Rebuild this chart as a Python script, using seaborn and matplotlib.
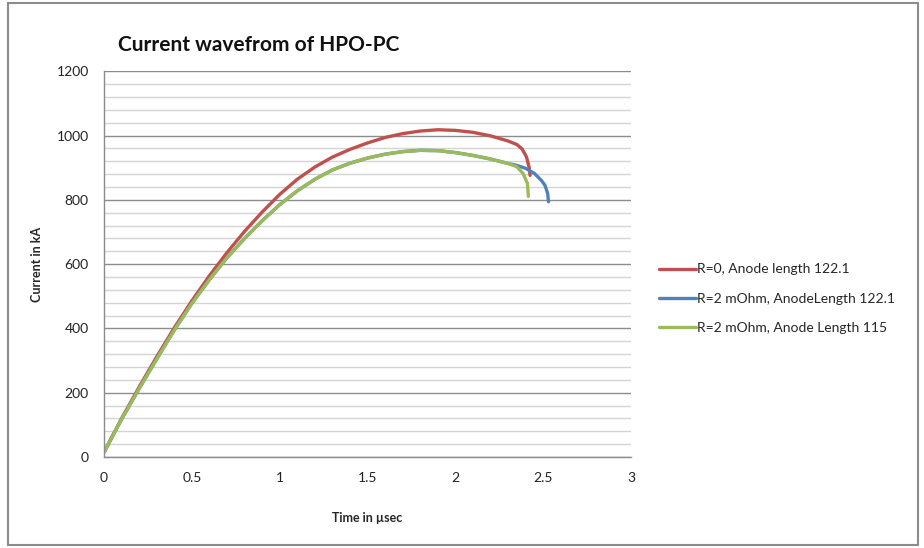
import numpy as np
import pandas as pd
import matplotlib
matplotlib.use("Agg")
import matplotlib.pyplot as plt
import seaborn as sns
from matplotlib.ticker import MultipleLocator, FormatStrFormatter

# ==================================================
# DATA
# ==================================================

red_x = [0, 0.1, 0.2, 0.3, 0.4, 0.5, 0.6, 0.7, 0.8, 0.9, 1.0, 1.1, 1.2, 1.3,
         1.4, 1.5, 1.6, 1.7, 1.8, 1.9, 2.0, 2.1, 2.2, 2.3, 2.35, 2.38, 2.405,
         2.42, 2.425]
red_y = [15, 120, 218, 312, 402, 486, 564, 636, 702, 762, 817, 864, 902, 933,
         957, 977, 994, 1006, 1014, 1018, 1016, 1010, 999, 983, 972, 958, 933,
         900, 876]

blue_x = [0, 0.1, 0.2, 0.3, 0.4, 0.5, 0.6, 0.7, 0.8, 0.9, 1.0, 1.1, 1.2, 1.3,
          1.4, 1.5, 1.6, 1.7, 1.8, 1.9, 2.0, 2.1, 2.2, 2.3, 2.35, 2.4, 2.45,
          2.49, 2.51, 2.525, 2.53]
blue_y = [15, 118, 213, 305, 395, 478, 552, 620, 680, 735, 785, 828, 864, 893,
          914, 930, 942, 950, 954, 953, 947, 938, 927, 913, 907, 898, 882,
          860, 845, 820, 794]

green_x = [0, 0.1, 0.2, 0.3, 0.4, 0.5, 0.6, 0.7, 0.8, 0.9, 1.0, 1.1, 1.2, 1.3,
           1.4, 1.5, 1.6, 1.7, 1.8, 1.9, 2.0, 2.1, 2.2, 2.3, 2.35, 2.385, 2.41,
           2.415]
green_y = [15, 118, 213, 305, 395, 478, 552, 620, 680, 735, 785, 828, 864, 893,
           914, 930, 942, 950, 954, 953, 947, 938, 927, 913, 903, 882, 851,
           811]

series_names = [
    "R=0, Anode length 122.1",
    "R=2 mOhm, AnodeLength 122.1",
    "R=2 mOhm, Anode Length 115",
]
series_colors = ["#C0504D", "#4F81BD", "#9BBB59"]

df = pd.concat([
    pd.DataFrame({"Time": red_x, "Current": red_y, "Series": series_names[0]}),
    pd.DataFrame({"Time": blue_x, "Current": blue_y, "Series": series_names[1]}),
    pd.DataFrame({"Time": green_x, "Current": green_y, "Series": series_names[2]}),
])

# ==================================================
# PLOT
# ==================================================

sns.set_style("white")
plt.rcParams["font.family"] = ["Lato", "DejaVu Sans"]

fig = plt.figure(figsize=(9.24, 5.48), dpi=100)
ax = fig.add_axes([0.1126, 0.166, 0.5704, 0.704])

sns.lineplot(
    data=df,
    x="Time",
    y="Current",
    hue="Series",
    hue_order=series_names,
    palette=series_colors,
    linewidth=2.4,
    sort=False,
    estimator=None,
    ax=ax
)

ax.set_xlim(0, 3)
ax.set_ylim(0, 1200)
ax.xaxis.set_major_locator(MultipleLocator(0.5))
ax.xaxis.set_major_formatter(FormatStrFormatter("%g"))
ax.yaxis.set_major_locator(MultipleLocator(200))
ax.yaxis.set_minor_locator(MultipleLocator(40))

ax.grid(which="major", axis="y", color="#8c8c8c", linewidth=1.0)
ax.grid(which="minor", axis="y", color="#d4d4d4", linewidth=1.0)
ax.set_axisbelow(True)

for side in ["top", "right"]:
    ax.spines[side].set_visible(False)
for side in ["left", "bottom"]:
    ax.spines[side].set_color("#8c8c8c")
    ax.spines[side].set_linewidth(1.0)

ax.tick_params(axis="both", which="major", direction="out", length=5,
               color="#8c8c8c", labelsize=10, labelcolor="#222222", pad=6)
ax.tick_params(axis="y", which="minor", length=0)

ax.set_xlabel("Time in µsec", fontsize=9, fontweight="bold", labelpad=20)
ax.set_ylabel("Current in kA", fontsize=9, fontweight="bold", labelpad=10)

fig.text(0.128, 0.918, "Current wavefrom of HPO-PC", fontsize=15,
         fontweight="bold", ha="left", va="center", color="#111111")

leg = ax.legend(
    loc="center left",
    bbox_to_anchor=(1.03, 0.41),
    frameon=False,
    fontsize=10,
    handlelength=2.6,
    handletextpad=0.1,
    labelspacing=1.25
)
for line in leg.get_lines():
    line.set_linewidth(2.4)

# outer chart border
fig.add_artist(plt.Rectangle((0.009, 0.006), 0.984, 0.988, transform=fig.transFigure,
                             fill=False, edgecolor="#8c8c8c", linewidth=1.5))

plt.savefig("out.png", dpi=100)
